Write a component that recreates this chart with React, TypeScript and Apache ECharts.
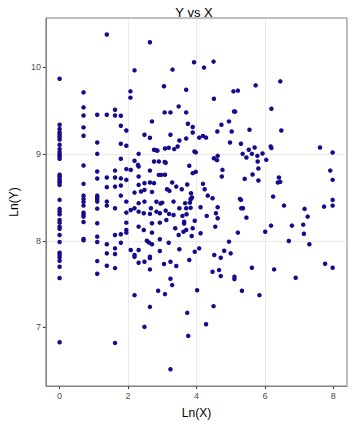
import React, { useEffect, useRef } from "react";
import * as echarts from "echarts";

const TITLE = "Y vs X";
const X_NAME = "Ln(X)";
const Y_NAME = "Ln(Y)";
const X_TICKS = [0, 2, 4, 6, 8];
const Y_TICKS = [7, 8, 9, 10];

// observations at Ln(X) = 0
const obsZero: [number, number][] = [
  [0, 9.87], [0, 9.339], [0, 9.289], [0, 9.25], [0, 9.22], [0, 9.197], [0, 9.169], [0, 9.108],
  [0, 9.058], [0, 9.023], [0, 8.995], [0, 8.972], [0, 8.946], [0, 8.761], [0, 8.741], [0, 8.714],
  [0, 8.691], [0, 8.672], [0, 8.645], [0, 8.472], [0, 8.368], [0, 8.339], [0, 8.306], [0, 8.241],
  [0, 8.209], [0, 8.163], [0, 8.139], [0, 8.067], [0, 7.986], [0, 7.862], [0, 7.836], [0, 7.809],
  [0, 7.77], [0, 7.701], [0, 7.57], [0, 6.83],
];

// observations with small Ln(X)
const obsLow: [number, number][] = [
  [0.7, 9.712], [0.7, 9.539], [0.7, 9.446], [0.7, 9.308], [0.7, 9.212], [0.7, 8.868], [0.7, 8.657],
  [0.7, 8.521], [0.7, 8.483], [0.7, 8.449], [0.7, 8.406], [0.7, 8.325], [0.7, 8.3], [0.7, 8.279],
  [0.7, 8.217], [0.7, 8.021], [0.7, 8.006],
  [1.1, 9.454], [1.1, 9.134], [1.1, 9.003], [1.1, 8.799], [1.1, 8.718], [1.1, 8.521], [1.1, 8.498],
  [1.1, 8.475], [1.1, 8.452], [1.1, 8.371], [1.1, 8.202], [1.1, 8.048], [1.1, 7.986], [1.1, 7.766],
  [1.1, 7.62],
  [1.38, 10.379], [1.38, 9.454], [1.38, 8.73], [1.38, 8.619], [1.38, 8.452], [1.38, 8.406],
  [1.38, 7.96], [1.38, 7.855], [1.38, 7.712],
  [1.62, 9.511], [1.62, 9.446], [1.62, 8.81], [1.62, 8.73], [1.62, 8.625], [1.62, 8.376],
  [1.62, 8.067], [1.62, 7.913], [1.62, 7.847], [1.62, 7.685], [1.62, 6.822],
  [1.79, 9.443], [1.79, 9.327], [1.79, 9.119], [1.79, 8.946], [1.79, 8.72], [1.79, 8.637],
  [1.79, 8.521], [1.79, 8.075], [1.79, 7.978],
  [1.95, 9.273], [1.95, 9.096], [1.95, 8.827], [1.95, 8.703], [1.95, 8.452], [1.95, 8.325],
  [1.95, 8.209], [1.95, 8.125], [1.95, 8.094],
];

// observations in the middle of the range
const obsMid: [number, number][] = [
  [2.64, 10.29], [2.19, 9.966], [3.3, 9.975], [3.93, 10.06], [4.5, 10.067], [4.22, 9.998],
  [3.05, 9.782], [3.7, 9.743], [2.07, 9.724], [2.07, 9.651], [4.51, 9.639], [3.48, 9.55],
  [3.07, 9.481], [3.24, 9.481], [3.7, 9.481], [2.7, 9.377], [3.75, 9.35], [4.73, 9.339],
  [4.95, 9.377], [3.89, 9.312], [4.61, 9.261], [5.03, 9.261], [2.48, 9.223], [3.89, 9.25],
  [3.24, 9.223], [2.64, 9.188], [4.08, 9.19], [4.19, 9.21], [4.28, 9.19], [3.5, 9.157],
  [3.7, 9.18], [4.98, 9.134], [3.45, 9.088], [3.35, 9.058], [2.76, 9.05], [2.82, 9.045],
  [2.86, 9.04], [3.08, 9.065], [3.19, 9.073], [3.94, 9.03], [3.98, 9.02], [2.31, 9.003],
  [2.19, 8.923], [2.76, 8.915], [2.9, 8.915], [3.07, 8.91], [3.1, 8.9], [4.51, 8.953],
  [4.6, 8.93], [4.62, 8.98], [3.79, 8.865], [2.29, 8.876], [2.31, 8.857], [4.76, 8.818],
  [4.74, 8.741], [2.08, 8.818], [2.64, 8.81], [3.89, 8.78], [3.98, 8.795], [2.9, 8.76],
  [2.97, 8.76], [3.08, 8.762], [2.31, 8.741], [2.76, 8.665], [3.29, 8.672], [3.41, 8.625],
  [3.57, 8.595], [3.73, 8.649], [4.19, 8.657], [4.24, 8.595], [2.31, 8.645], [2.48, 8.665],
  [2.64, 8.672], [2.19, 8.556], [2.38, 8.568], [2.48, 8.587], [2.7, 8.564], [3.14, 8.595],
  [3.21, 8.576], [3.84, 8.549], [4.33, 8.521], [4.47, 8.49], [2.31, 8.434], [2.48, 8.452],
  [2.83, 8.45], [2.95, 8.43], [3.0, 8.44], [3.33, 8.452], [3.67, 8.434], [3.81, 8.44],
  [3.85, 8.49], [3.87, 8.5], [3.83, 8.48], [4.12, 8.387], [4.62, 8.387], [2.08, 8.356],
  [2.19, 8.376], [2.67, 8.376], [3.5, 8.376], [3.7, 8.376], [3.83, 8.38],
  [2.31, 8.336], [2.46, 8.318], [2.64, 8.31], [2.83, 8.336], [2.93, 8.318], [3.1, 8.348],
  [3.33, 8.298], [3.2, 8.31], [3.59, 8.287], [3.71, 8.306], [4.3, 8.287], [4.57, 8.318],
  [4.62, 8.26], [2.31, 8.163], [2.46, 8.125], [2.7, 8.202], [2.7, 8.094], [2.93, 8.209],
  [3.12, 8.24], [3.38, 8.144], [3.48, 8.067], [3.62, 8.105], [3.7, 8.125], [3.64, 8.22],
  [3.64, 8.2], [3.89, 8.144], [3.95, 8.232], [3.86, 8.056], [4.12, 8.087], [4.55, 8.163],
  [4.95, 7.99], [2.08, 7.894], [2.19, 7.836], [2.19, 7.816], [2.31, 7.894], [2.31, 7.747],
  [2.48, 7.758], [2.64, 7.816], [2.64, 7.8], [2.64, 7.67], [2.55, 8.0], [2.61, 7.98],
  [2.7, 7.96], [2.93, 8.017], [2.93, 7.882], [3.19, 7.978], [3.05, 7.732], [3.24, 7.758],
  [3.41, 7.709], [3.5, 7.902], [3.79, 7.778], [3.95, 7.874], [4.08, 7.913], [4.47, 7.643],
  [4.52, 7.836], [4.66, 7.662], [4.71, 7.593], [4.81, 7.886], [4.71, 7.805], [5.0, 7.855],
  [3.24, 7.562], [3.29, 7.489], [2.88, 7.423], [3.08, 7.385], [2.19, 7.373], [4.02, 7.43],
  [2.64, 7.238], [4.5, 7.246], [3.73, 7.169], [4.28, 7.038], [2.48, 7.007], [3.76, 6.903],
  [3.24, 6.518],
];

// observations with large Ln(X)
const obsHigh: [number, number][] = [
  [6.45, 9.839], [5.73, 9.793], [5.08, 9.724], [5.21, 9.732], [6.19, 9.524], [5.1, 9.492],
  [5.13, 9.49], [5.55, 9.281], [6.48, 9.273], [5.3, 9.119], [6.17, 9.088], [6.19, 9.07],
  [5.7, 9.076], [5.53, 9.05], [7.61, 9.076], [7.98, 9.018], [5.35, 9.003], [5.46, 8.961],
  [5.62, 9.003], [5.78, 8.98], [5.93, 9.007], [6.04, 8.934], [5.79, 8.915], [5.81, 8.834],
  [5.64, 8.764], [5.41, 8.714], [5.81, 8.695], [6.41, 8.73], [6.38, 8.672], [6.45, 8.68],
  [7.91, 8.81], [7.98, 8.703], [6.24, 8.51], [6.56, 8.406], [5.27, 8.483], [5.3, 8.472],
  [5.31, 8.376], [5.36, 8.376], [7.16, 8.368], [7.73, 8.394], [7.98, 8.472], [7.98, 8.406],
  [5.46, 8.267], [7.25, 8.279], [6.18, 8.175], [6.79, 8.175], [7.12, 8.186], [5.21, 8.094],
  [6.01, 8.105], [7.14, 8.082], [6.7, 7.998], [7.3, 7.96], [5.62, 7.689], [6.27, 7.67],
  [7.76, 7.735], [7.98, 7.689], [5.11, 7.585], [5.11, 7.558], [6.9, 7.573], [5.33, 7.423],
  [5.84, 7.373],
];

const FONT = "Liberation Sans, Arial, sans-serif";
const BORDER = "#808080";

export default function App() {
  const ref = useRef<HTMLDivElement>(null);
  useEffect(() => {
    document.body.style.margin = "0";
    if (!ref.current) return;
    const chart = echarts.init(ref.current, undefined, { renderer: "svg" });
    const data = [...obsZero, ...obsLow, ...obsMid, ...obsHigh];
    chart.setOption({
      animation: false,
      backgroundColor: "#ffffff",
      textStyle: { fontFamily: FONT },
      title: {
        text: TITLE,
        left: 189,
        textAlign: "center",
        top: 1,
        textStyle: { fontFamily: FONT, fontSize: 13, fontWeight: "normal", color: "#000000" },
      },
      grid: {
        left: 41,
        right: 7,
        top: 18,
        bottom: 38,
        show: true,
        borderColor: BORDER,
        borderWidth: 1,
        backgroundColor: "transparent",
        z: 10,
      },
      xAxis: {
        type: "value",
        min: -0.4,
        max: 8.4,
        splitNumber: 4,
        minInterval: X_TICKS[1] - X_TICKS[0],
        maxInterval: X_TICKS[1] - X_TICKS[0],
        name: X_NAME,
        nameLocation: "middle",
        nameGap: 21,
        nameTextStyle: { fontFamily: FONT, fontSize: 12, color: "#000000" },
        axisLine: { show: true, onZero: false, lineStyle: { color: BORDER, width: 1 } },
        axisTick: { show: true, length: 3, customValues: X_TICKS, lineStyle: { color: "#333333" } },
        axisLabel: {
          fontFamily: FONT,
          fontSize: 9,
          color: "#4d4d4d",
          margin: 5,
          customValues: X_TICKS,
          formatter: (v: number) => (X_TICKS.includes(v) ? String(v) : ""),
        },
        splitLine: { show: true, showMinLine: false, showMaxLine: false, lineStyle: { color: "#ebebeb", width: 1 } },
      },
      yAxis: {
        type: "value",
        min: 6.325,
        max: 10.57,
        splitNumber: 4,
        minInterval: Y_TICKS[1] - Y_TICKS[0],
        maxInterval: Y_TICKS[1] - Y_TICKS[0],
        name: Y_NAME,
        nameLocation: "middle",
        nameGap: 21,
        nameTextStyle: { fontFamily: FONT, fontSize: 12, color: "#000000" },
        axisLine: { show: true, onZero: false, lineStyle: { color: BORDER, width: 1 } },
        axisTick: { show: true, length: 3, customValues: Y_TICKS, lineStyle: { color: "#333333" } },
        axisLabel: {
          fontFamily: FONT,
          fontSize: 9,
          color: "#4d4d4d",
          margin: 5,
          customValues: Y_TICKS,
          formatter: (v: number) => (Y_TICKS.includes(v) ? String(v) : ""),
        },
        splitLine: { show: true, showMinLine: false, showMaxLine: false, lineStyle: { color: "#ebebeb", width: 1 } },
      },
      series: [
        {
          type: "scatter",
          data,
          symbol: "circle",
          symbolSize: 4.5,
          itemStyle: { color: "#140c8c", opacity: 1 },
          silent: true,
          z: 5,
        },
      ],
    });
    return () => chart.dispose();
  }, []);
  return <div ref={ref} style={{ width: 354, height: 424 }} />;
}
